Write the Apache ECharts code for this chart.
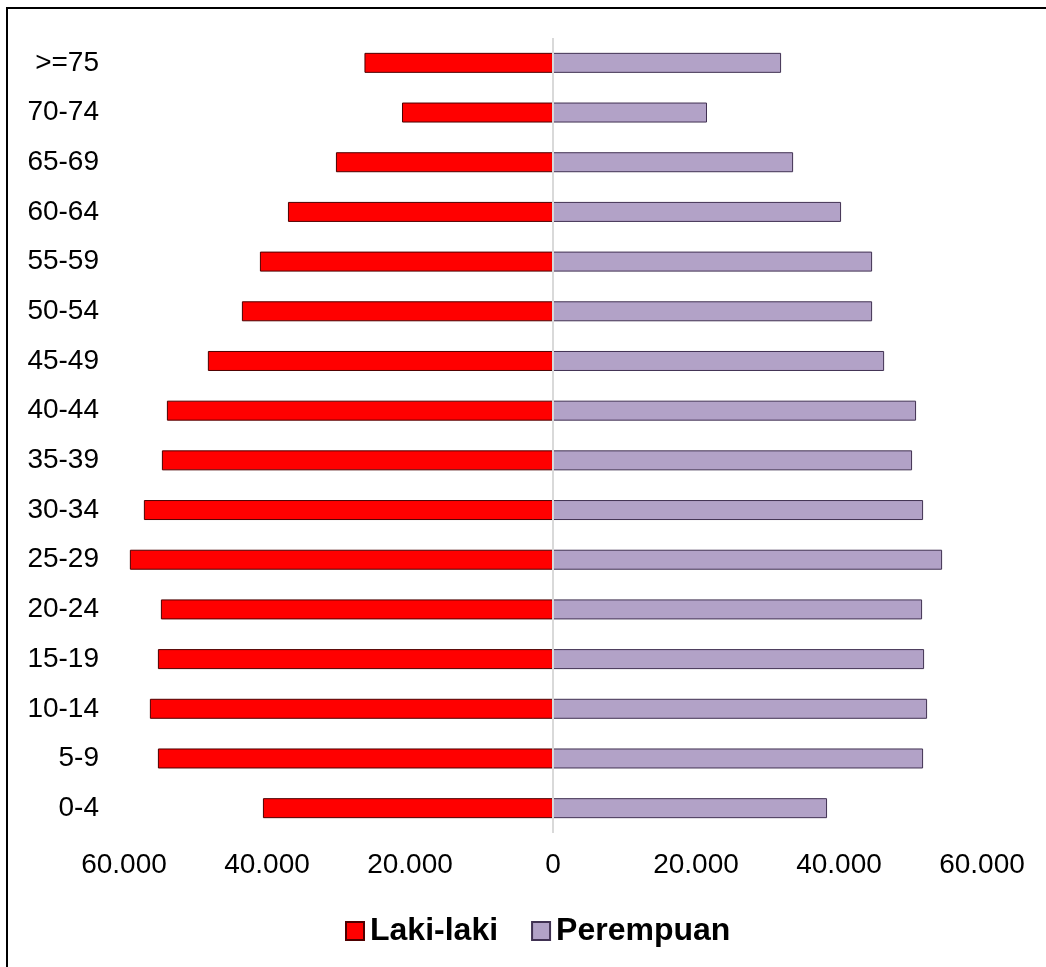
<!DOCTYPE html>
<html>
<head>
<meta charset="utf-8">
<script src="https://cdn.jsdelivr.net/npm/echarts@6/dist/echarts.min.js"></script>
<style>
html,body{margin:0;padding:0;background:#fff;}
#chart{width:1046px;height:967px;}
</style>
</head>
<body>
<div id="chart"></div>
<script>
var categories = ['0-4','5-9','10-14','15-19','20-24','25-29','30-34','35-39','40-44','45-49','50-54','55-59','60-64','65-69','70-74','>=75'];
var lakiLaki = [40570, 55260, 56380, 55260, 54840, 59180, 57220, 54700, 54000, 48270, 43510, 40990, 37070, 30360, 21120, 26370];
var perempuan = [38330, 51760, 52320, 51900, 51620, 54420, 51760, 50220, 50780, 46310, 44630, 44630, 40290, 33580, 21540, 31900];
var xTicks = [-60000, -40000, -20000, 0, 20000, 40000, 60000];

function fmt(v){
  var a = Math.abs(v);
  return String(a).replace(/\B(?=(\d{3})+(?!\d))/g, '.');
}

var chart = echarts.init(document.getElementById('chart'), null, {renderer:'canvas'});
var font = '"Liberation Sans", Arial, sans-serif';
chart.setOption({
  animation: false,
  backgroundColor: '#fff',
  textStyle: {fontFamily: font},
  graphic: [{
    type: 'rect',
    shape: {x: 7, y: 8, width: 1045, height: 965},
    style: {fill: 'none', stroke: '#000', lineWidth: 2},
    silent: true
  }],
  grid: {left: 124, right: 64, top: 38, bottom: 134, containLabel: false},
  legend: {
    left: 340, top: 910,
    icon: 'rect',
    itemWidth: 18, itemHeight: 18, itemGap: 33,
    textStyle: {fontSize: 32, fontWeight: 'bold', color: '#000', fontFamily: font, padding: [0,0,0,1]},
    data: ['Laki-laki', 'Perempuan']
  },
  xAxis: {
    type: 'value',
    min: xTicks[0], max: xTicks[xTicks.length-1], interval: 20000,
    axisLine: {show: false}, axisTick: {show: false},
    splitLine: {show: false},
    axisLabel: {fontSize: 28, color: '#000', margin: 18, formatter: fmt, fontFamily: font}
  },
  yAxis: {
    type: 'category',
    data: categories,
    axisLine: {show: false, onZero: false}, axisTick: {show: false},
    axisLabel: {fontSize: 28, color: '#000', margin: 25, fontFamily: font}
  },
  series: [{
    name: 'Laki-laki',
    type: 'bar',
    stack: 'pop',
    barWidth: 20,
    data: lakiLaki.map(function(v){return -v;}),
    itemStyle: {color: '#FF0000', borderColor: '#4d0000', borderWidth: 1},
    markLine: {
      silent: true, symbol: 'none',
      label: {show: false},
      lineStyle: {color: '#d9d9d9', width: 2, type: 'solid'},
      data: [{xAxis: 0}]
    },
    z: 3
  }, {
    name: 'Perempuan',
    type: 'bar',
    stack: 'pop',
    barWidth: 20,
    data: perempuan,
    itemStyle: {color: '#B2A2C7', borderColor: '#403152', borderWidth: 1},
    z: 3
  }]
});
</script>
</body>
</html>
